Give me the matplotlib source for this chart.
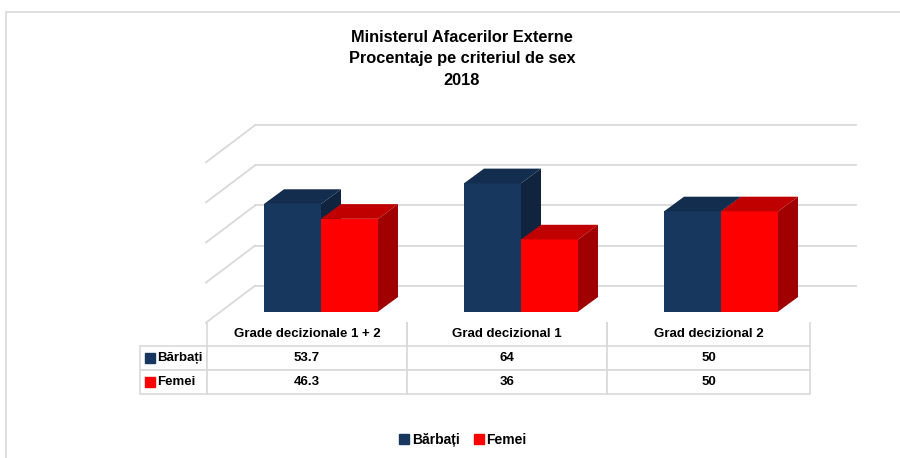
import matplotlib
matplotlib.use("Agg")
import matplotlib.pyplot as plt
from matplotlib.patches import Polygon, Rectangle
from matplotlib.lines import Line2D

plt.rcParams['font.family'] = ['Liberation Sans', 'DejaVu Sans']
plt.rcParams['font.weight'] = 'bold'

# date
categorii = ["Grade decizionale 1 + 2", "Grad decizional 1", "Grad decizional 2"]
barbati = [53.7, 64, 50]
femei = [46.3, 36, 50]
serii = ["Bărbați", "Femei"]
grila = [0, 20, 40, 60, 80]
titlu = "Ministerul Afacerilor Externe\nProcentaje pe criteriul de sex\n2018"

# culori (fata, sus, lateral)
albastru = ("#17375E", "#132D4E", "#10233F")
rosu = ("#FF0000", "#C00000", "#A00000")
gri = "#D9D9D9"

W, H = 900, 458
fig = plt.figure(figsize=(9, 4.58), dpi=100)

# chenarul graficului
fig.patches.append(Rectangle((6 / W, 0 - 0.01), 1.0, 1 - 12 / H + 0.01,
                             transform=fig.transFigure, fill=False,
                             edgecolor=gri, lw=1.2))

fig.text(462 / W, 1 - 59 / H, titlu, ha='center', va='center',
         fontsize=11.8, fontweight='bold', linespacing=1.58)

# zona 3D: 1 categorie = 200 px, 1 unitate = 2.006 px
ax = fig.add_axes([130 / W, 1 - 330 / H, 750 / W, 220 / H])
ax.set_xlim(-0.955, 2.795)
ax.set_ylim(-9.12, 100.55)
ax.axis('off')

bw = 0.285          # latimea unei coloane
adx, ady = 0.1, 7.33  # adancimea coloanei
wall_dy = 12.96      # peretele din spate
perete_x0, perete_x1 = -0.33, 2.675
diag_dx, diag_dy = -0.245, -18.44

for v in grila:
    y = v + wall_dy
    ax.plot([perete_x0, perete_x1], [y, y], color=gri, lw=1.3, zorder=1)
    ax.plot([perete_x0, perete_x0 + diag_dx], [y, y + diag_dy], color=gri, lw=1.3, zorder=1)


def coloana(x0, v, culori, z):
    fata, sus, lat = culori
    ax.add_patch(Polygon([(x0, 0), (x0 + bw, 0), (x0 + bw, v), (x0, v)],
                         closed=True, facecolor=fata, edgecolor='none', zorder=z))
    ax.add_patch(Polygon([(x0, v), (x0 + bw, v), (x0 + bw + adx, v + ady), (x0 + adx, v + ady)],
                         closed=True, facecolor=sus, edgecolor='none', zorder=z))
    ax.add_patch(Polygon([(x0 + bw, 0), (x0 + bw + adx, ady), (x0 + bw + adx, v + ady), (x0 + bw, v)],
                         closed=True, facecolor=lat, edgecolor='none', zorder=z))


for i in range(len(categorii)):
    coloana(i - bw, barbati[i], albastru, 2 + 2 * i)
    coloana(i, femei[i], rosu, 3 + 2 * i)

# tabelul de date
tax = fig.add_axes([140 / W, 1 - 394 / H, 670 / W, 72 / H])
tax.set_xlim(0, 1)
tax.set_ylim(0, 1)
tax.axis('off')
celule = [[""] + categorii,
          [serii[0]] + [f"{v:g}" for v in barbati],
          [serii[1]] + [f"{v:g}" for v in femei]]
tab = tax.table(cellText=celule, colWidths=[67 / 670, 200 / 670, 200 / 670, 203 / 670],
                bbox=[0, 0, 1, 1], cellLoc='center')
tab.auto_set_font_size(False)
for (r, c), cell in tab.get_celld().items():
    cell.set_edgecolor(gri)
    cell.set_linewidth(1.2)
    cell.get_text().set_fontsize(9.5)
    cell.get_text().set_fontweight('bold')
    if r == 0:
        cell.visible_edges = '' if c == 0 else 'LR'
    else:
        cell.visible_edges = 'closed'
    if c == 0 and r > 0:
        cell.get_text().set_ha('left')
        cell._loc = 'left'
        cell.PAD = 0.25

tax.plot([9.5 / 670], [0.5 / 3], ls='none', marker='s',
         markersize=6.5, color=rosu[0], zorder=11, clip_on=False)
tax.plot([9.5 / 670], [1.5 / 3], ls='none', marker='s',
         markersize=6.5, color=albastru[0], zorder=11, clip_on=False)

# legenda
manere = [Line2D([], [], ls='none', marker='s', markersize=7, color=albastru[0]),
          Line2D([], [], ls='none', marker='s', markersize=7, color=rosu[0])]
fig.legend(manere, serii, loc='center', bbox_to_anchor=(463 / W, 1 - 440 / H),
           ncol=2, frameon=False, handlelength=0.7, handletextpad=0.2,
           columnspacing=1.0, prop={'size': 10, 'weight': 'bold'})

fig.savefig("out.png", dpi=100)
